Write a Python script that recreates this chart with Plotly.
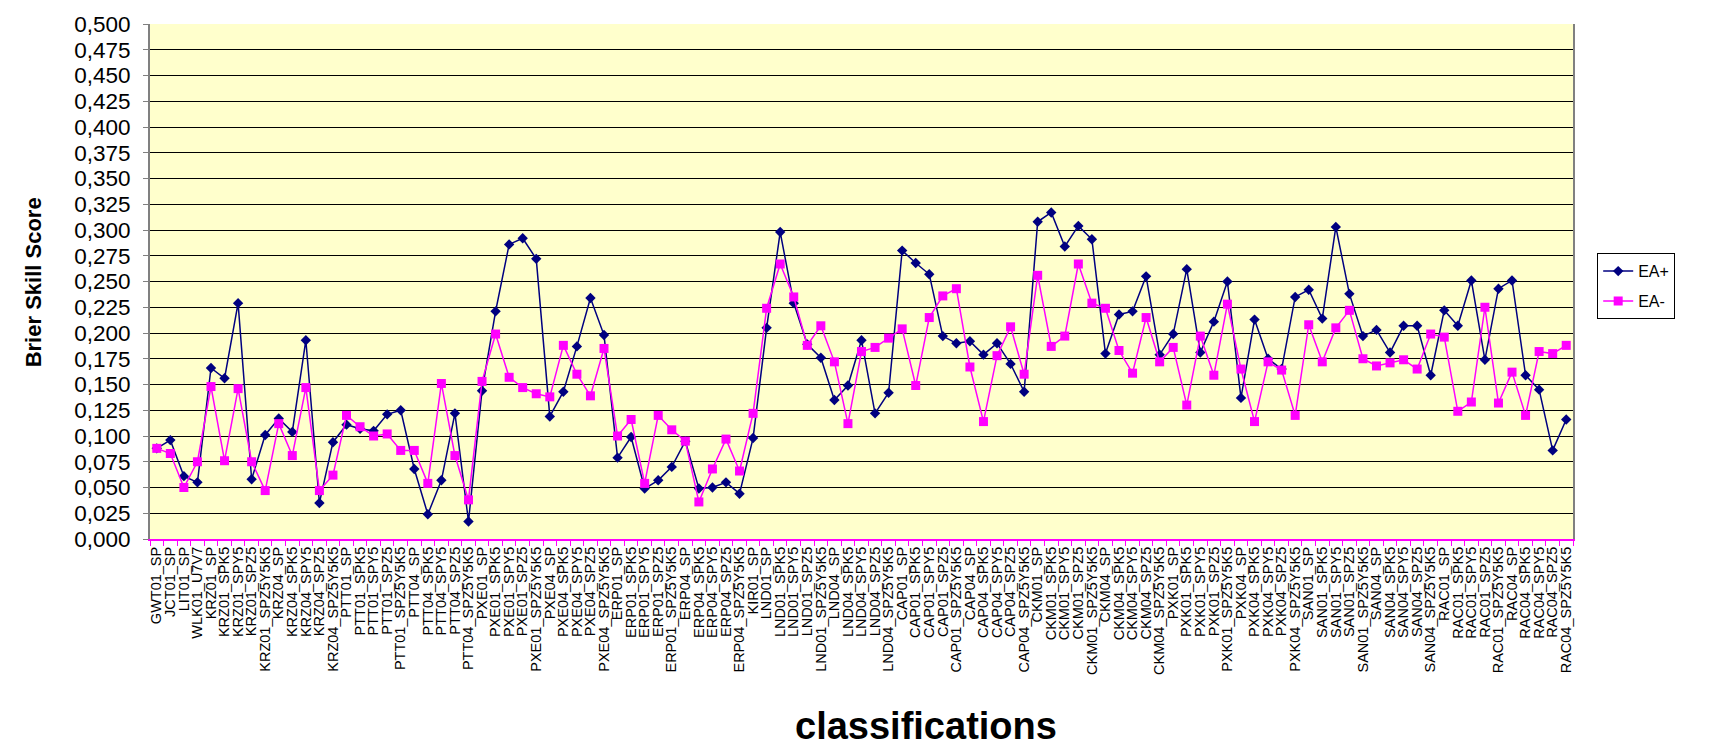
import plotly.graph_objects as go

categories = [
    "GWT01_SP", "JCT01_SP", "LIT01_SP", "WLK01_U7V7",
    "KRZ01_SP", "KRZ01_SPK5", "KRZ01_SPY5", "KRZ01_SPZ5", "KRZ01_SPZ5Y5K5",
    "KRZ04_SP", "KRZ04_SPK5", "KRZ04_SPY5", "KRZ04_SPZ5", "KRZ04_SPZ5Y5K5",
    "PTT01_SP", "PTT01_SPK5", "PTT01_SPY5", "PTT01_SPZ5", "PTT01_SPZ5Y5K5",
    "PTT04_SP", "PTT04_SPK5", "PTT04_SPY5", "PTT04_SPZ5", "PTT04_SPZ5Y5K5",
    "PXE01_SP", "PXE01_SPK5", "PXE01_SPY5", "PXE01_SPZ5", "PXE01_SPZ5Y5K5",
    "PXE04_SP", "PXE04_SPK5", "PXE04_SPY5", "PXE04_SPZ5", "PXE04_SPZ5Y5K5",
    "ERP01_SP", "ERP01_SPK5", "ERP01_SPY5", "ERP01_SPZ5", "ERP01_SPZ5Y5K5",
    "ERP04_SP", "ERP04_SPK5", "ERP04_SPY5", "ERP04_SPZ5", "ERP04_SPZ5Y5K5",
    "KIR01_SP",
    "LND01_SP", "LND01_SPK5", "LND01_SPY5", "LND01_SPZ5", "LND01_SPZ5Y5K5",
    "LND04_SP", "LND04_SPK5", "LND04_SPY5", "LND04_SPZ5", "LND04_SPZ5Y5K5",
    "CAP01_SP", "CAP01_SPK5", "CAP01_SPY5", "CAP01_SPZ5", "CAP01_SPZ5Y5K5",
    "CAP04_SP", "CAP04_SPK5", "CAP04_SPY5", "CAP04_SPZ5", "CAP04_SPZ5Y5K5",
    "CKM01_SP", "CKM01_SPK5", "CKM01_SPY5", "CKM01_SPZ5", "CKM01_SPZ5Y5K5",
    "CKM04_SP", "CKM04_SPK5", "CKM04_SPY5", "CKM04_SPZ5", "CKM04_SPZ5Y5K5",
    "PXK01_SP", "PXK01_SPK5", "PXK01_SPY5", "PXK01_SPZ5", "PXK01_SPZ5Y5K5",
    "PXK04_SP", "PXK04_SPK5", "PXK04_SPY5", "PXK04_SPZ5", "PXK04_SPZ5Y5K5",
    "SAN01_SP", "SAN01_SPK5", "SAN01_SPY5", "SAN01_SPZ5", "SAN01_SPZ5Y5K5",
    "SAN04_SP", "SAN04_SPK5", "SAN04_SPY5", "SAN04_SPZ5", "SAN04_SPZ5Y5K5",
    "RAC01_SP", "RAC01_SPK5", "RAC01_SPY5", "RAC01_SPZ5", "RAC01_SPZ5Y5K5",
    "RAC04_SP", "RAC04_SPK5", "RAC04_SPY5", "RAC04_SPZ5", "RAC04_SPZ5Y5K5",
]

ea_plus = [
    0.088, 0.096, 0.061, 0.055,
    0.166, 0.156, 0.229, 0.058, 0.101,
    0.117, 0.104, 0.193, 0.035, 0.094,
    0.111, 0.107, 0.105, 0.121, 0.125,
    0.068, 0.024, 0.057, 0.122, 0.017,
    0.144, 0.221, 0.286, 0.292, 0.272,
    0.119, 0.143, 0.187, 0.234, 0.198,
    0.079, 0.099, 0.049, 0.057, 0.070,
    0.095, 0.049, 0.050, 0.055, 0.044,
    0.098,
    0.205, 0.298, 0.229, 0.189, 0.176,
    0.135, 0.149, 0.193, 0.122, 0.142,
    0.280, 0.268, 0.257, 0.197, 0.190,
    0.192, 0.179, 0.190, 0.170, 0.143,
    0.308, 0.317, 0.284, 0.304, 0.291,
    0.180, 0.218, 0.221, 0.255, 0.179,
    0.199, 0.262, 0.181, 0.211, 0.250,
    0.137, 0.213, 0.175, 0.165, 0.235,
    0.242, 0.214, 0.303, 0.238, 0.197,
    0.203, 0.181, 0.207, 0.207, 0.159,
    0.222, 0.207, 0.251, 0.174, 0.243,
    0.251, 0.159, 0.145, 0.086, 0.116,
]

ea_minus = [
    0.088, 0.083, 0.050, 0.075,
    0.148, 0.076, 0.146, 0.075, 0.047,
    0.112, 0.081, 0.147, 0.047, 0.062,
    0.120, 0.109, 0.100, 0.102, 0.086,
    0.086, 0.054, 0.151, 0.081, 0.038,
    0.153, 0.199, 0.157, 0.147, 0.141,
    0.138, 0.188, 0.160, 0.139, 0.185,
    0.100, 0.116, 0.054, 0.120, 0.106,
    0.095, 0.036, 0.068, 0.097, 0.066,
    0.122,
    0.224, 0.267, 0.235, 0.188, 0.207,
    0.172, 0.112, 0.182, 0.186, 0.195,
    0.204, 0.149, 0.215, 0.236, 0.243,
    0.167, 0.114, 0.178, 0.206, 0.160,
    0.256, 0.187, 0.197, 0.267, 0.229,
    0.224, 0.183, 0.161, 0.215, 0.172,
    0.186, 0.130, 0.197, 0.159, 0.228,
    0.165, 0.114, 0.172, 0.164, 0.120,
    0.208, 0.172, 0.205, 0.222, 0.175,
    0.168, 0.171, 0.174, 0.165, 0.199,
    0.196, 0.124, 0.133, 0.225, 0.132,
    0.162, 0.120, 0.182, 0.180, 0.188,
]

FONT = "Liberation Sans, Arial, sans-serif"

fig = go.Figure()
fig.add_trace(go.Scatter(
    x=categories, y=ea_plus, name="EA+", mode="lines+markers",
    legendgroup="a",
    line=dict(color="#000080", width=1.5),
    marker=dict(symbol="diamond", size=8, color="#000080"),
))
fig.add_trace(go.Scatter(
    x=categories, y=ea_minus, name="EA-", mode="lines+markers",
    legendgroup="b",
    line=dict(color="#FF00FF", width=1.5),
    marker=dict(symbol="square", size=9, color="#FF00FF"),
))

fig.update_layout(
    width=1709, height=755,
    margin=dict(l=150, r=136, t=22, b=216),
    paper_bgcolor="white",
    plot_bgcolor="#FFFFCC",
    separators=",.",
    font=dict(family=FONT, color="black"),
    showlegend=True,
    legend=dict(
        x=1.017, y=0.555, xanchor="left", yanchor="top",
        bordercolor="black", borderwidth=1, bgcolor="white",
        font=dict(size=16, family=FONT),
        tracegroupgap=6,
    ),
    xaxis=dict(
        type="category",
        tickmode="linear", tick0=0, dtick=1,
        tickangle=-90,
        tickfont=dict(size=14.5, family=FONT),
        showgrid=False,
        showline=True, linecolor="#FF00FF", linewidth=2,
        ticks="outside", tickcolor="#FF00FF", ticklen=5,
        tickson="boundaries",
        range=[-0.5, len(categories) - 0.5],
        zeroline=False,
    ),
    yaxis=dict(
        range=[0, 0.5],
        dtick=0.025,
        tick0=0,
        tickformat=".3f",
        tickfont=dict(size=22.5, family=FONT),
        showgrid=True, gridcolor="black", gridwidth=1,
        showline=True, linecolor="#808080", linewidth=2,
        mirror=True,
        ticks="outside", tickcolor="#808080", ticklen=5,
        ticklabelstandoff=8,
        zeroline=False,
    ),
    annotations=[
        dict(text="<b>classifications</b>", x=0.545, y=-0.364,
             xref="paper", yref="paper", showarrow=False,
             font=dict(size=38, family=FONT), xanchor="center", yanchor="middle"),
        dict(text="<b>Brier Skill Score</b>", x=-0.082, y=0.499,
             xref="paper", yref="paper", showarrow=False, textangle=-90,
             font=dict(size=22, family=FONT), xanchor="center", yanchor="middle"),
    ],
)

fig.write_html("out.html", config={"displayModeBar": False},
               post_script="document.body.style.margin='0';")
